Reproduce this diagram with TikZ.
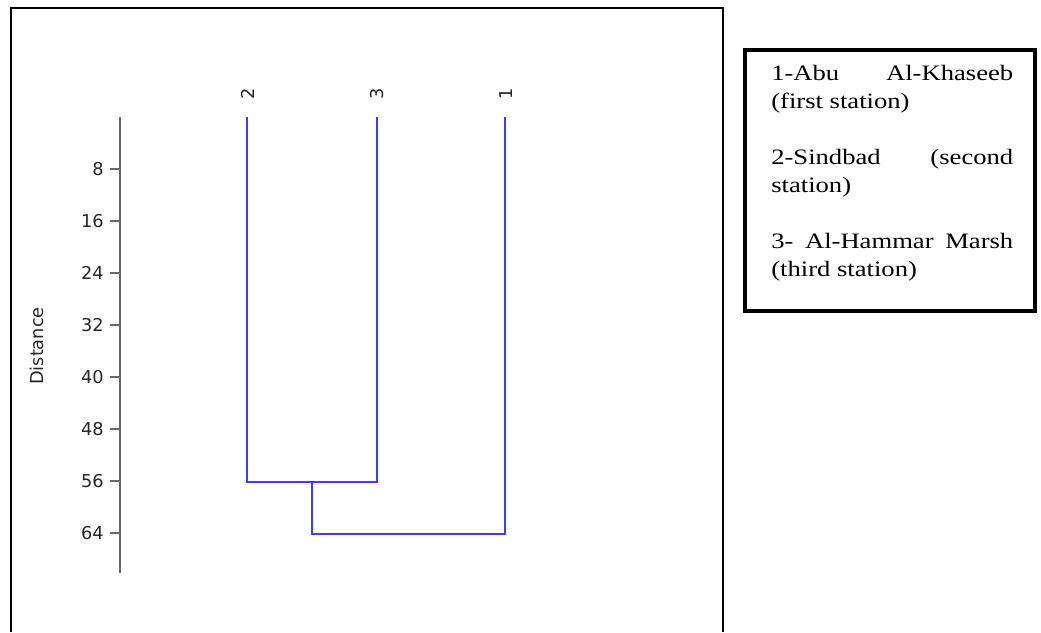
\documentclass[tikz,border=0pt]{standalone}
\usepackage{graphicx}
\usepackage{fontspec}
\setmainfont{Liberation Serif}
\newfontfamily\axisfont{DejaVu Sans}
\definecolor{dendro}{RGB}{60,60,255}
\definecolor{axisgrey}{RGB}{105,105,105}

\tikzset{
  axisline/.style={draw=axisgrey, line width=2pt},
  tickmark/.style={draw=axisgrey, line width=1.2pt},
  axislabel/.style={font=\axisfont\fontsize{13.3pt}{15pt}\selectfont, text=black!85, inner sep=0pt},
  link/.style={draw=dendro, line width=1.1pt},
  legendbox/.style={draw=black, line width=3pt}
}

\begin{document}
\begin{tikzpicture}[x=0.75pt,y=-0.75pt]
	\useasboundingbox (0,0) rectangle (1041,632);

	% frame of the plot (open at the bottom)
	\draw [line width=1.5pt] (11,632) -- (11,8) -- (723,8) -- (723,632);

	% distance axis
	\draw [axisline] (120,117) -- (120,573);
	\foreach \d in {8,16,...,64} {
		\draw [tickmark] (110,117+6.5*\d) -- (120,117+6.5*\d);
		\node [axislabel, anchor=east] (tick\d) at (104,117+6.5*\d) {\d};
	}
	\node [axislabel, rotate=90] (dist) at (37,346) {Distance};

	% leaves
	\node [axislabel, rotate=90, anchor=west] (n2) at (248,100) {2};
	\node [axislabel, rotate=90, anchor=west] (n3) at (377,100) {3};
	\node [axislabel, rotate=90, anchor=west] (n1) at (506,100) {1};
	\coordinate (t2) at (247,117);
	\coordinate (t3) at (377,117);
	\coordinate (t1) at (505,117);
	\coordinate (j23) at (312,482);
	\coordinate (j123) at (408,534);

	% clusters
	\draw [link] (t2) |- (j23) -| (t3);
	\draw [link] (j23) |- (j123) -| (t1);

	% legend
	\draw [legendbox] (745,50) rectangle (1035,311);
	\node [anchor=base west, inner sep=0pt] (legend) at (771,80) {\scalebox{1.21}[1]{\parbox[t]{150pt}{%
		\fontsize{16.5pt}{21pt}\selectfont
		1-Abu\hfill Al-Khaseeb\\
		(first station)\\[21pt]
		2-Sindbad\hfill (second\\
		station)\\[21pt]
		3-\hfill Al-Hammar\hfill Marsh\\
		(third station)}}};
\end{tikzpicture}
\end{document}
